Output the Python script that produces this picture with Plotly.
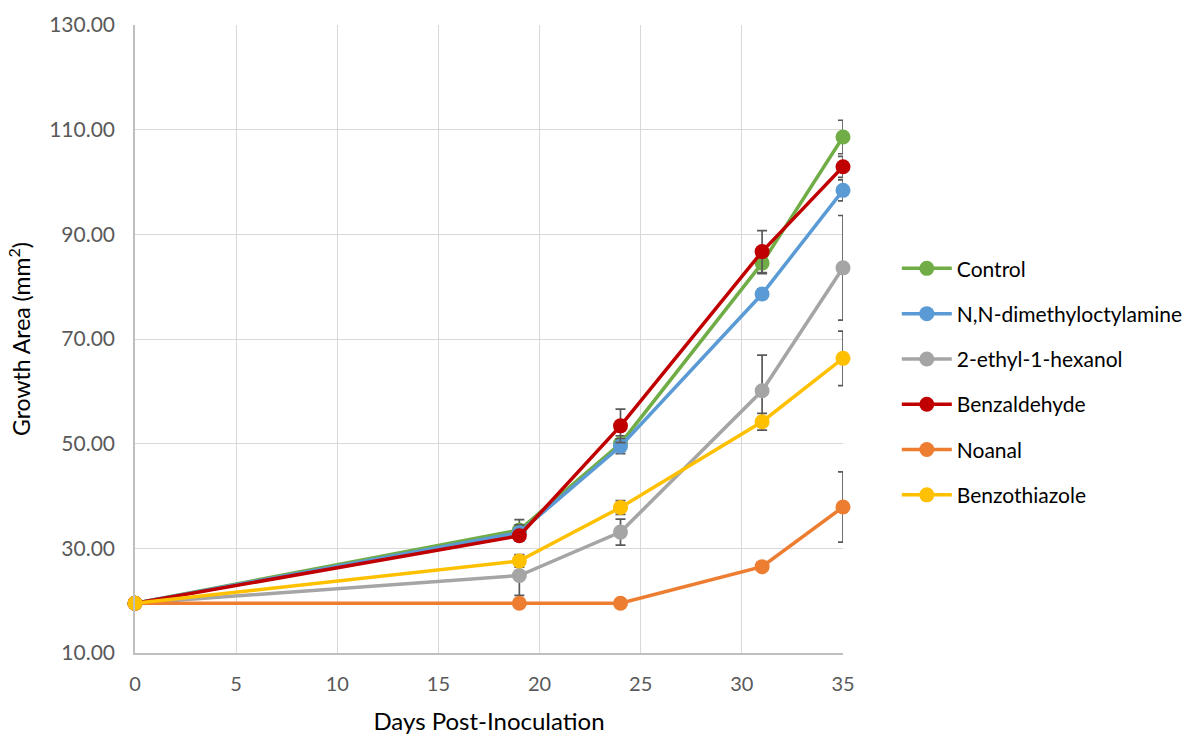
import plotly.graph_objects as go

days = [0, 19, 24, 31, 35]

series_names = ["Control", "N,N-dimethyloctylamine", "2-ethyl-1-hexanol",
                "Benzaldehyde", "Noanal", "Benzothiazole"]
colors = ["#70ad47", "#5b9bd5", "#a5a5a5", "#c00000", "#ed7d31", "#ffc000"]

control = [19.5, 33.5, 50.0, 84.5, 108.6]
control_err = [0.0, 2.0, 1.5, 2.0, 3.2]
dimethyl = [19.5, 33.0, 49.5, 78.6, 98.4]
dimethyl_err = [0.0, 1.5, 1.4, 1.0, 2.0]
ethylhex = [19.5, 24.8, 33.1, 60.1, 83.6]
ethylhex_err = [0.0, 3.8, 2.5, 6.8, 10.0]
benzald = [19.5, 32.4, 53.4, 86.7, 102.9]
benzald_err = [0.0, 1.0, 3.2, 4.0, 2.0]
noanal = [19.5, 19.5, 19.5, 26.5, 37.9]
noanal_err = [0.0, 0.0, 0.0, 0.8, 6.7]
benzothia = [19.5, 27.6, 37.8, 54.2, 66.3]
benzothia_err = [0.0, 1.2, 1.3, 1.6, 5.2]

values = [control, dimethyl, ethylhex, benzald, noanal, benzothia]
errors = [control_err, dimethyl_err, ethylhex_err, benzald_err, noanal_err, benzothia_err]

x_ticks = [0, 5, 10, 15, 20, 25, 30, 35]
y_ticks = [10, 30, 50, 70, 90, 110, 130]

fig = go.Figure()
for i, (name, col, ys, es) in enumerate(zip(series_names, colors, values, errors)):
    fig.add_trace(go.Scatter(
        x=days, y=ys, name=name, mode="lines+markers",
        line=dict(color=col, width=3.5),
        marker=dict(color=col, size=15),
        error_y=dict(type="data", array=es, visible=True, color="#595959",
                     thickness=1.7, width=5),
        cliponaxis=False,
        legendgroup=f"g{i}",
    ))

fig.update_layout(
    width=1196, height=736,
    margin=dict(l=135, r=353, t=25, b=83, autoexpand=False),
    paper_bgcolor="white", plot_bgcolor="white",
    font=dict(family="Lato, Open Sans, sans-serif", color="#000000"),
    showlegend=True,
    legend=dict(x=1.076, xanchor="left", y=0.432, yanchor="middle",
                font=dict(size=21, color="#000000"), tracegroupgap=15,
                itemwidth=50, bgcolor="rgba(0,0,0,0)"),
)
fig.update_xaxes(
    range=[0, 35], tickvals=x_ticks, ticktext=[str(t) for t in x_ticks],
    showgrid=True, gridcolor="#d9d9d9", gridwidth=1, automargin=False,
    showline=True, linecolor="#bfbfbf", linewidth=1.5, zeroline=False,
    ticks="", tickfont=dict(size=20, color="#595959"), ticklabelstandoff=12,
    title=dict(text="Days Post-Inoculation", font=dict(size=24, color="#000000"), standoff=19),
)
fig.update_yaxes(
    range=[10, 130], tickvals=y_ticks, tickformat=".2f",
    showgrid=True, gridcolor="#d9d9d9", gridwidth=1, automargin=False,
    showline=True, linecolor="#bfbfbf", linewidth=1.5, zeroline=False,
    ticks="", tickfont=dict(size=21, color="#595959"), ticklabelstandoff=14,
    title=dict(text="Growth Area (mm<sup>2</sup>)", font=dict(size=23, color="#000000"), standoff=12),
)

fig.write_html("out.html")
